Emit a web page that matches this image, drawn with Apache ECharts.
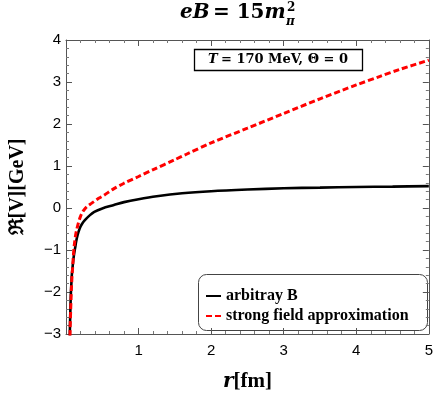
<!DOCTYPE html>
<html><head><meta charset="utf-8">
<script src="https://cdn.jsdelivr.net/npm/echarts@6/dist/echarts.min.js"></script>
<style>html,body{margin:0;padding:0;background:#fff}#c{width:436px;height:397px}</style>
</head><body><div id="c"></div>
<script>
// x values (r in fm) and potentials (GeV)
const rBlack = [0.052,0.056,0.06,0.064,0.068,0.074,0.08,0.09,0.1,0.113,0.126,0.14,0.16,0.19,0.22,0.26,0.33,0.39,0.5,0.66,0.8,1.0,1.25,1.6,2.0,2.5,3.0,3.5,4.0,4.5,5.0];
const vBlack = [-3.05,-2.7,-2.45,-2.2,-2.0,-1.8,-1.6,-1.42,-1.25,-1.08,-0.95,-0.8,-0.64,-0.48,-0.38,-0.29,-0.17,-0.09,-0.01,0.07,0.14,0.21,0.28,0.35,0.40,0.44,0.47,0.485,0.50,0.51,0.52];
const rRed = [0.055,0.06,0.065,0.07,0.075,0.082,0.09,0.1,0.11,0.12,0.135,0.15,0.17,0.2,0.23,0.27,0.3,0.35,0.45,0.53,0.65,0.8,1.0,1.21,1.5,1.66,2.0,2.5,3.0,3.5,4.0,4.32,4.6,5.0];
const vRed = [-3.05,-2.7,-2.4,-2.15,-1.9,-1.65,-1.45,-1.18,-0.95,-0.8,-0.62,-0.5,-0.36,-0.2,-0.09,0.0,0.05,0.11,0.23,0.31,0.45,0.59,0.75,0.92,1.15,1.28,1.55,1.9,2.25,2.6,2.93,3.13,3.30,3.52];
const xTicks = [0,1,2,3,4,5];
const yTicks = [-3,-2,-1,0,1,2,3,4];
const seriesNames = ['arbitray B','strong field approximation'];

const serif = '"Liberation Serif","DejaVu Serif",serif';
const dserif = '"DejaVu Serif",serif';
const sans = '"Liberation Sans",Arial,sans-serif';
const chart = echarts.init(document.getElementById('c'));
const tickCommon = () => ({
  axisLine:{show:true,onZero:false,lineStyle:{color:'#555',width:1}},
  axisTick:{show:true,inside:true,length:6,lineStyle:{color:'#555',width:1}},
  minorTick:{show:true,splitNumber:5,length:3,lineStyle:{color:'#777',width:1}},
  splitLine:{show:false}, minorSplitLine:{show:false}
});
const minus = v => String(v).replace('-', '\u2212');
chart.setOption({
  animation:false,
  grid:{left:62,right:5,top:40,bottom:63},
  xAxis:[
    Object.assign({type:'value',min:xTicks[0],max:xTicks[xTicks.length-1],interval:1,position:'bottom',
      axisLabel:{showMinLabel:false,fontFamily:sans,fontSize:15,color:'#000',margin:9,formatter:minus},
      name:'{i|r}{n|[fm]}',nameLocation:'middle',nameGap:37,
      nameTextStyle:{rich:{i:{fontFamily:dserif,fontStyle:'italic',fontWeight:'bold',fontSize:20,color:'#000'},n:{fontFamily:serif,fontWeight:'bold',fontSize:21,color:'#000'}}}
    },tickCommon()),
    Object.assign({type:'value',min:0,max:5,interval:1,position:'top',axisLabel:{show:false}},tickCommon())
  ],
  yAxis:[
    Object.assign({type:'value',min:yTicks[0],max:yTicks[yTicks.length-1],interval:1,position:'left',
      axisLabel:{fontFamily:sans,fontSize:15,color:'#000',margin:5,formatter:minus},
      name:'ℜ[V][GeV]',nameLocation:'middle',nameGap:38,nameRotate:90,
      nameTextStyle:{fontFamily:serif,fontWeight:'bold',fontSize:20,color:'#000'}
    },tickCommon()),
    Object.assign({type:'value',min:-3,max:4,interval:1,position:'right',axisLabel:{show:false}},tickCommon())
  ],
  legend:{
    orient:'vertical',left:200,top:283,itemWidth:15,itemHeight:10,itemGap:4,
    data:seriesNames,
    itemStyle:{opacity:0},
    textStyle:{fontFamily:serif,fontWeight:'bold',fontSize:16,color:'#000'}
  },
  series:[
    {name:seriesNames[0],type:'line',symbol:'none',smooth:0.3,xAxisIndex:0,yAxisIndex:0,
      data:rBlack.map((r,i)=>[r,vBlack[i]]),lineStyle:{color:'#000',width:2.6},itemStyle:{color:'#000'},z:3},
    {name:seriesNames[1],type:'line',symbol:'none',smooth:0.3,xAxisIndex:0,yAxisIndex:0,
      data:rRed.map((r,i)=>[r,vRed[i]]),lineStyle:{color:'#ff0000',width:3,type:[6,3]},itemStyle:{color:'#ff0000'},z:4}
  ],
  graphic:[
    {type:'text',left:180,top:3,style:{text:'{i|eB} {n|= 15}{i|m}',
      rich:{i:{fontFamily:dserif,fontStyle:'italic',fontWeight:'bold',fontSize:20,fill:'#000'},n:{fontFamily:dserif,fontWeight:'bold',fontSize:20,fill:'#000'}}}},
    {type:'text',left:287,top:2,style:{text:'2',font:'bold 12px '+dserif,fill:'#000'}},
    {type:'text',left:286,top:16,style:{text:'π',font:'bold italic 12px '+dserif,fill:'#000'}},
    {type:'rect',shape:{x:194.5,y:49.5,width:168,height:21},style:{fill:'#fff',stroke:'#000',lineWidth:1.3},z:10},
    {type:'text',x:278,y:60,z:11,style:{text:'{i|T} {n|= 170 MeV, Θ = 0}',align:'center',verticalAlign:'middle',
      rich:{i:{fontFamily:dserif,fontStyle:'italic',fontWeight:'bold',fontSize:13,fill:'#000'},n:{fontFamily:dserif,fontWeight:'bold',fontSize:13,fill:'#000'}}}},
    {type:'rect',shape:{x:198.5,y:274.5,width:229,height:56,r:8},style:{fill:'#fff',stroke:'#444',lineWidth:1},z:0}
  ]
});
</script></body></html>
